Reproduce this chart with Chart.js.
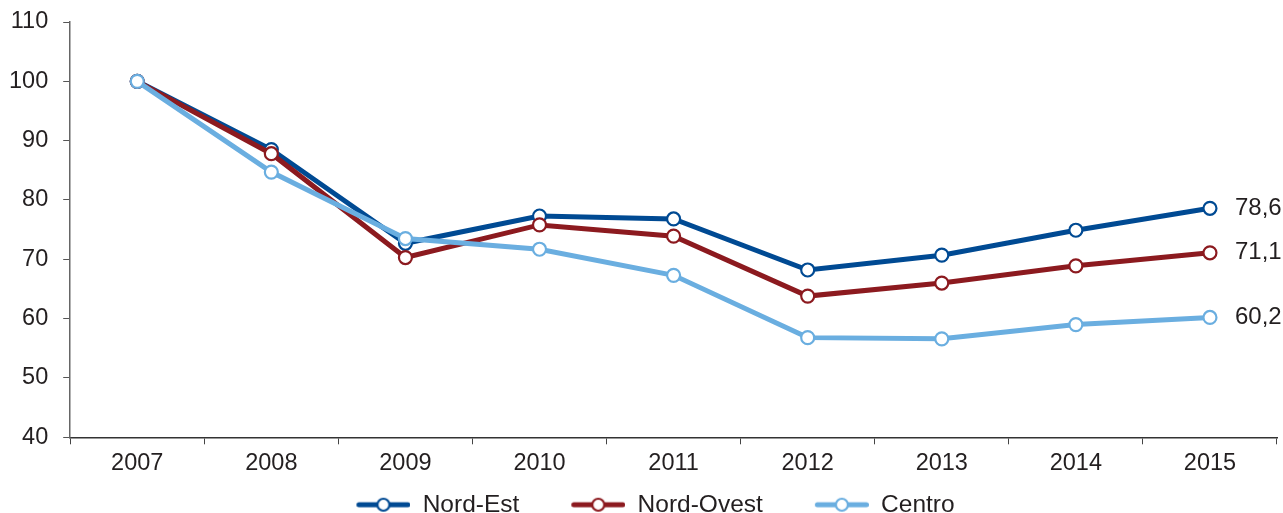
<!DOCTYPE html>
<html>
<head>
<meta charset="utf-8">
<script src="https://cdn.jsdelivr.net/npm/chart.js@4"></script>
<style>
  html, body { margin: 0; padding: 0; background: #fff; }
  #wrap { width: 1283px; height: 513px; }
</style>
</head>
<body>
<div id="wrap"><canvas id="c" width="1283" height="513"></canvas></div>
<script>
const years = ['2007','2008','2009','2010','2011','2012','2013','2014','2015'];
const nordEst   = [100, 88.5, 72.7, 77.3, 76.8, 68.2, 70.7, 74.9, 78.6];
const nordOvest = [100, 87.8, 70.3, 75.8, 73.9, 63.8, 66.0, 68.9, 71.1];
const centro    = [100, 84.7, 73.5, 71.7, 67.3, 56.8, 56.6, 59.0, 60.2];
const seriesNames = ['Nord-Est', 'Nord-Ovest', 'Centro'];
const seriesColors = ['#004a93', '#8c1a1f', '#6aaee0'];
const yTicks = [40, 50, 60, 70, 80, 90, 100, 110];

const FONT = "'Liberation Sans', Arial, Helvetica, sans-serif";
const TEXT = '#231f20';
const FS_TICK = 23.5;
const FS_LEG = 24.5;

const ICON_GAP = 42;   // blank space before each legend icon
const ICON_W = 54;
const LEGEND_SHIFT = 4;
function legendIcon(color) {
  const c = document.createElement('canvas');
  c.width = ICON_W + ICON_GAP; c.height = 18;
  const g = c.getContext('2d');
  g.translate(ICON_GAP, 0);
  g.strokeStyle = color; g.lineWidth = 5; g.lineCap = 'round';
  g.beginPath(); g.moveTo(2.5, 9); g.lineTo(ICON_W - 2.5, 9); g.stroke();
  g.beginPath(); g.arc(ICON_W / 2, 9, 6, 0, Math.PI * 2);
  g.fillStyle = '#fff'; g.fill();
  g.lineWidth = 2.2; g.stroke();
  return c;
}

const values = [nordEst, nordOvest, centro];
const datasets = values.map((v, i) => ({
  label: seriesNames[i],
  data: v,
  borderColor: seriesColors[i],
  backgroundColor: '#ffffff',
  borderWidth: 5,
  pointRadius: 6.5,
  pointBorderWidth: 2.2,
  pointBackgroundColor: '#ffffff',
  pointBorderColor: seriesColors[i],
  tension: 0,
  order: 3 - i
}));

const lastLabels = {
  id: 'lastLabels',
  afterDatasetsDraw(chart) {
    const ctx = chart.ctx;
    ctx.save();
    ctx.font = '24px ' + FONT;
    ctx.fillStyle = TEXT;
    ctx.textBaseline = 'middle';
    ctx.textAlign = 'left';
    chart.data.datasets.forEach((ds, i) => {
      const meta = chart.getDatasetMeta(i);
      const pt = meta.data[meta.data.length - 1];
      const v = ds.data[ds.data.length - 1];
      ctx.fillText(v.toFixed(1).replace('.', ','), pt.x + 25, pt.y);
    });
    ctx.restore();
  }
};

const legendShift = {
  id: 'legendShift',
  afterLayout(chart) {
    if (chart.legend) {
      chart.legend.left -= LEGEND_SHIFT;
      chart.legend.right -= LEGEND_SHIFT;
    }
  }
};

new Chart(document.getElementById('c'), {
  type: 'line',
  data: { labels: years, datasets },
  plugins: [lastLabels, legendShift],
  options: {
    responsive: false,
    animation: false,
    devicePixelRatio: 1,
    layout: { autoPadding: false, padding: { left: -6, right: 0, top: 0, bottom: -14 } },
    plugins: {
      tooltip: { enabled: false },
      legend: {
        position: 'bottom',
        labels: {
          font: { size: FS_LEG, family: FONT },
          color: TEXT,
          usePointStyle: true,
          pointStyleWidth: ICON_W + ICON_GAP,
          boxHeight: 18,
          padding: 10,
          generateLabels(chart) {
            return chart.data.datasets.map((ds, i) => ({
              text: ds.label,
              pointStyle: legendIcon(ds.borderColor),
              fillStyle: '#fff',
              strokeStyle: ds.borderColor,
              lineWidth: 0,
              hidden: false,
              datasetIndex: i,
              fontColor: TEXT
            }));
          }
        }
      }
    },
    scales: {
      x: {
        offset: true,
        afterFit(scale) { scale.paddingRight = 6; },
        grid: { offset: true, drawOnChartArea: false, drawTicks: true, tickLength: 7, color: '#444' },
        border: { color: '#333', width: 1.5 },
        ticks: { font: { size: FS_TICK, family: FONT }, color: TEXT, padding: 5 }
      },
      y: {
        min: 40, max: 110,
        afterBuildTicks(scale) { scale.ticks = yTicks.map(v => ({ value: v })); },
        afterFit(scale) { scale.paddingTop = 22; },
        grid: { drawOnChartArea: false, drawTicks: true, tickLength: 7, color: '#555' },
        border: { color: '#666', width: 1.5 },
        ticks: { font: { size: FS_TICK, family: FONT }, color: TEXT, padding: 15 }
      }
    }
  }
});
</script>
</body>
</html>
